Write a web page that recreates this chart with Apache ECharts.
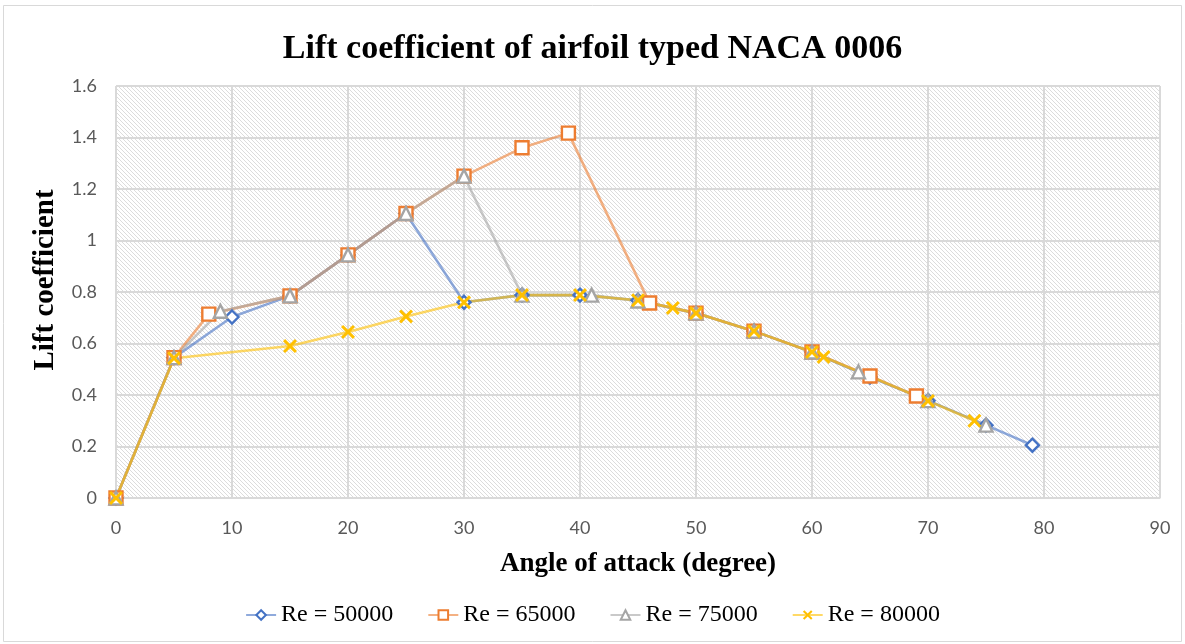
<!DOCTYPE html>
<html>
<head>
<meta charset="utf-8">
<script src="https://cdn.jsdelivr.net/npm/echarts@6/dist/echarts.min.js"></script>
<style>
html,body{margin:0;padding:0;background:#fff;}
#chart{width:1185px;height:644px;}
</style>
</head>
<body>
<div id="chart"></div>
<script>
// Data (angle of attack in degrees, lift coefficient)
const re50000 = [[0,0],[5,0.545],[10,0.703],[15,0.785],[20,0.944],[25,1.105],[30,0.76],[35,0.788],[40,0.788],[45,0.768],[50,0.718],[55,0.648],[60,0.567],[65,0.47],[70,0.378],[75,0.283],[79,0.205]];
const re65000 = [[0,0],[5,0.545],[8,0.714],[15,0.785],[20,0.944],[25,1.105],[30,1.25],[35,1.36],[39,1.417],[46,0.757],[50,0.718],[55,0.648],[60,0.567],[65,0.474],[69,0.396]];
const re75000 = [[0,0],[5,0.545],[9,0.725],[15,0.785],[20,0.944],[25,1.105],[30,1.25],[35,0.788],[41,0.788],[45,0.765],[50,0.718],[55,0.648],[60,0.567],[64,0.49],[70,0.378],[75,0.283]];
const re80000 = [[0,0],[5,0.543],[15,0.59],[20,0.645],[25,0.705],[30,0.76],[35,0.788],[40,0.788],[45,0.768],[48,0.738],[50,0.718],[55,0.648],[60,0.567],[61,0.548],[70,0.377],[74,0.30]];
const seriesNames = ['Re = 50000','Re = 65000','Re = 75000','Re = 80000'];

// hatch pattern for plot background
const pc = document.createElement('canvas');
const S = 4;
pc.width = S; pc.height = S;
const ctx = pc.getContext('2d');
ctx.fillStyle = '#ffffff';
ctx.fillRect(0,0,S,S);
ctx.strokeStyle = '#dcdcdc';
ctx.lineWidth = 1;
for (const off of [-S, 0, S]) {
  ctx.beginPath();
  ctx.moveTo(off, 0);
  ctx.lineTo(off + S, S);
  ctx.stroke();
}

const crossPath = 'path://M0,1.5L1.5,0L5,3.5L8.5,0L10,1.5L6.5,5L10,8.5L8.5,10L5,6.5L1.5,10L0,8.5L3.5,5Z';
const serif = '"Liberation Serif","Times New Roman",serif';
const sans = 'Lato, "Open Sans", sans-serif';

function mk(name, data, markColor, symbol, size, hollow) {
  return {
    name: name,
    type: 'line',
    data: data,
    symbol: symbol,
    symbolSize: size,
    showAllSymbol: true,
    lineStyle: { color: markColor, width: 2.6, opacity: 0.6 },
    itemStyle: hollow ? { color: '#ffffff', borderColor: markColor, borderWidth: 2.4 }
                      : { color: markColor, borderWidth: 0 },
    emphasis: { disabled: true },
    z: 2
  };
}

const chart = echarts.init(document.getElementById('chart'), null, { renderer: 'canvas' });
chart.setOption({
  animation: false,
  backgroundColor: '#ffffff',
  title: {
    text: 'Lift coefficient of airfoil typed NACA 0006',
    left: 'center',
    top: 27,
    padding: [5, 0, 5, 14],
    textStyle: { fontFamily: serif, fontWeight: 'bold', fontSize: 34, color: '#000' }
  },
  graphic: [{
    type: 'rect',
    shape: { x: 3.5, y: 5.5, width: 1178, height: 636 },
    style: { fill: 'none', stroke: '#d9d9d9', lineWidth: 1 },
    silent: true
  }],
  legend: {
    bottom: 12,
    left: 'center',
    itemGap: 34,
    itemWidth: 30,
    itemHeight: 12,
    textStyle: { fontFamily: serif, fontSize: 24, color: '#000' },
    data: seriesNames
  },
  grid: {
    left: 116, right: 25, top: 86, bottom: 146,
    show: true,
    backgroundColor: { image: pc, repeat: 'repeat' },
    borderWidth: 0
  },
  xAxis: {
    type: 'value',
    min: 0, max: 90, interval: 10,
    name: 'Angle of attack (degree)',
    nameLocation: 'middle',
    nameGap: 53,
    nameTextStyle: { fontFamily: serif, fontWeight: 'bold', fontSize: 27, color: '#000' },
    axisLine: { show: true, lineStyle: { color: '#d9d9d9', width: 1.5 } },
    axisTick: { show: false },
    axisLabel: { margin: 21, fontFamily: sans, fontSize: 18, color: '#595959' },
    splitLine: { show: true, lineStyle: { color: '#d9d9d9', width: 2 } }
  },
  yAxis: {
    type: 'value',
    min: 0, max: 1.6, interval: 0.2,
    name: 'Lift coefficient',
    nameLocation: 'middle',
    nameGap: 56,
    nameRotate: 90,
    nameTextStyle: { fontFamily: serif, fontWeight: 'bold', fontSize: 29, color: '#000', padding: [0, 0, 0, 24] },
    axisLine: { show: false },
    axisTick: { show: false },
    axisLabel: { margin: 19, fontFamily: sans, fontSize: 18, color: '#595959' },
    splitLine: { show: true, lineStyle: { color: '#d9d9d9', width: 2 } }
  },
  series: [
    mk(seriesNames[0], re50000, '#4472c4', 'diamond', 13, true),
    mk(seriesNames[1], re65000, '#ed7d31', 'rect', 13, true),
    mk(seriesNames[2], re75000, '#a5a5a5', 'triangle', 13, true),
    mk(seriesNames[3], re80000, '#ffc000', crossPath, 14, false)
  ]
});
</script>
</body>
</html>
